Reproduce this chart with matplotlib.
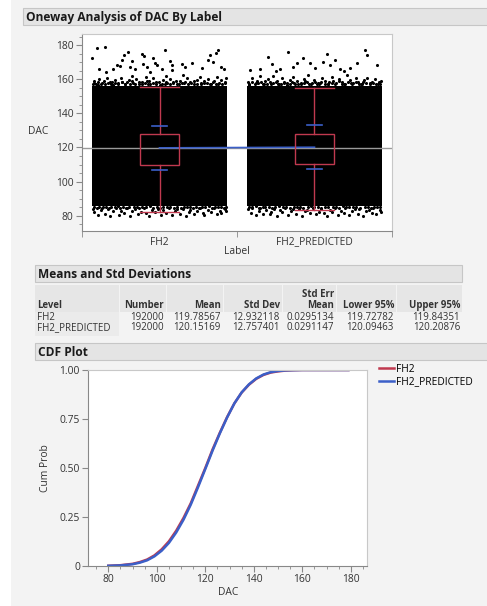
import numpy as np
import matplotlib.pyplot as plt
from matplotlib.patches import Rectangle

plt.rcParams['font.family'] = ['Open Sans', 'DejaVu Sans']
plt.rcParams['font.size'] = 7.4

# group summary (Means and Std Deviations)
labels = ['FH2', 'FH2_PREDICTED']
counts = [192000, 192000]
means = [119.78567, 120.15169]
sds = [12.932118, 12.757401]
sems = [0.0295134, 0.0291147]
lower95 = [119.72782, 120.09463]
upper95 = [119.84351, 120.20876]
grand_mean = 119.96868

# outlier box plot stats
q1 = [109.6, 110.2]
q3 = [127.8, 128.1]
whisk_lo = [82.4, 83.4]
whisk_hi = [155.7, 155.1]

# solid core of the jittered points
core_lo = [85.6, 85.9]
core_hi = [156.2, 155.9]

# sparse points above/below the core: FH2
fh2_pts_x = [0.095, 0.148, 0.067, 0.299, 0.273, 0.385, 0.402, 0.535, 0.460, 0.256,
             0.320, 0.224, 0.245, 0.198, 0.342, 0.396, 0.417, 0.471, 0.482, 0.568,
             0.583, 0.643, 0.664, 0.707, 0.826, 0.862, 0.880, 0.815, 0.847, 0.897,
             0.916, 0.772, 0.578, 0.514, 0.110, 0.153, 0.310, 0.439,
             0.07, 0.08, 0.10, 0.11, 0.13, 0.15, 0.16, 0.18, 0.20, 0.21, 0.23, 0.25,
             0.26, 0.28, 0.30, 0.32, 0.33, 0.35, 0.37, 0.39, 0.41, 0.42, 0.44, 0.46,
             0.48, 0.50, 0.52, 0.54, 0.55, 0.57, 0.59, 0.61, 0.63, 0.65, 0.66, 0.68,
             0.70, 0.72, 0.74, 0.76, 0.77, 0.79, 0.81, 0.83, 0.85, 0.87, 0.88, 0.90,
             0.92, 0.93,
             0.075, 0.09, 0.105, 0.125, 0.14, 0.165, 0.185, 0.195, 0.215, 0.235, 0.255, 0.275,
             0.29, 0.31, 0.325, 0.345, 0.365, 0.385, 0.405, 0.425, 0.435, 0.455, 0.475, 0.495,
             0.515, 0.535, 0.545, 0.565, 0.585, 0.605, 0.625, 0.645, 0.665, 0.685, 0.705, 0.725,
             0.745, 0.765, 0.785, 0.805, 0.825, 0.845, 0.865, 0.885, 0.905, 0.925,
             0.07, 0.08, 0.10, 0.12, 0.13, 0.15, 0.17, 0.18, 0.20, 0.22, 0.24, 0.25,
             0.27, 0.29, 0.31, 0.32, 0.34, 0.36, 0.38, 0.40, 0.41, 0.43, 0.45, 0.47,
             0.49, 0.51, 0.52, 0.54, 0.56, 0.58, 0.60, 0.61, 0.63, 0.65, 0.67, 0.69,
             0.70, 0.72, 0.74, 0.76, 0.78, 0.79, 0.81, 0.83, 0.85, 0.87, 0.89, 0.90,
             0.92, 0.93,
             0.075, 0.095, 0.11, 0.135, 0.155, 0.175, 0.19, 0.21, 0.23, 0.245, 0.265, 0.285,
             0.30, 0.335, 0.355, 0.37, 0.39, 0.415, 0.44, 0.46, 0.485, 0.50, 0.525, 0.55,
             0.57, 0.595, 0.615, 0.64, 0.655, 0.675, 0.695, 0.715, 0.735, 0.755, 0.775, 0.795,
             0.82, 0.84, 0.86, 0.875, 0.895, 0.915, 0.93]
fh2_pts_y = [178.3, 178.8, 172.4, 176.3, 174.3, 174.9, 173.7, 177.2, 172.4, 171.4,
             171.0, 168.4, 167.8, 165.9, 165.9, 169.0, 167.4, 169.8, 168.4, 171.0,
             168.4, 169.0, 167.1, 169.4, 174.3, 175.3, 177.2, 171.4, 170.4, 167.4,
             165.9, 166.5, 165.5, 165.9, 165.9, 164.5, 167.1, 164.5,
             157.5, 159.2, 156.8, 160.4, 158.1, 157.2, 161.0, 158.7, 156.9, 159.8, 157.6, 160.9,
             158.3, 157.1, 159.4, 162.2, 157.8, 160.1, 158.5, 157.0, 161.5, 159.0, 157.4, 160.6,
             158.2, 156.9, 159.7, 161.8, 157.7, 160.2, 158.4, 157.1, 159.3, 162.5, 157.9, 160.7,
             158.6, 157.3, 159.9, 161.2, 157.6, 158.9, 160.3, 157.2, 158.8, 161.4, 157.5, 159.6,
             158.0, 160.8,
             158.0, 157.3, 158.6, 157.1, 158.9, 157.6, 157.2, 158.4, 157.9, 157.0, 158.7, 157.5,
             158.2, 157.1, 158.8, 157.4, 157.0, 158.5, 157.7, 157.2, 159.1, 157.8, 157.1, 158.3,
             157.5, 157.0, 158.6, 157.3, 157.9, 158.8, 157.2, 157.6, 158.4, 157.0, 157.8, 158.9,
             157.3, 157.1, 158.1, 157.6, 157.2, 158.7, 157.4, 157.9, 157.1, 158.3,
             84.1, 82.0, 80.3, 83.2, 84.6, 81.1, 83.8, 79.8, 82.5, 84.3, 80.6, 83.0,
             81.7, 84.5, 79.6, 82.8, 83.9, 80.9, 82.2, 84.4, 81.4, 79.9, 83.4, 82.1,
             84.2, 80.5, 83.1, 81.8, 84.6, 80.2, 82.7, 83.7, 81.0, 84.0, 79.7, 82.4,
             83.6, 80.8, 82.9, 84.3, 81.3, 80.1, 83.3, 82.0, 84.5, 80.7, 83.0, 81.6,
             84.2, 82.6,
             85.0, 84.6, 85.2, 84.9, 85.3, 84.5, 85.1, 84.8, 85.4, 84.7, 85.0, 84.4,
             85.2, 84.9, 85.3, 84.6, 85.0, 84.8, 85.4, 84.5, 85.1, 84.7, 85.3, 84.9,
             85.0, 84.6, 85.2, 84.4, 85.1, 84.8, 85.3, 84.7, 85.0, 84.5, 85.2, 84.9,
             85.4, 84.6, 85.1, 84.8, 85.0, 84.7, 85.2]

# sparse points above/below the core: FH2_PREDICTED
pred_pts_x = [1.331, 1.826, 1.836, 1.578, 1.198, 1.224, 1.428, 1.385, 1.363, 1.557,
              1.600, 1.632, 1.772, 1.901, 1.665, 1.277, 1.148, 1.729, 1.503, 1.084,
              1.471, 1.250, 1.690,
              1.07, 1.08, 1.10, 1.12, 1.13, 1.15, 1.17, 1.18, 1.20, 1.22, 1.23, 1.25,
              1.27, 1.29, 1.30, 1.32, 1.34, 1.36, 1.37, 1.39, 1.41, 1.43, 1.45, 1.46,
              1.48, 1.50, 1.52, 1.53, 1.55, 1.57, 1.59, 1.61, 1.62, 1.64, 1.66, 1.68,
              1.69, 1.71, 1.73, 1.75, 1.77, 1.78, 1.80, 1.82, 1.84, 1.86, 1.87, 1.89,
              1.91, 1.93,
              1.075, 1.095, 1.115, 1.135, 1.155, 1.175, 1.195, 1.21, 1.235, 1.255, 1.265, 1.285,
              1.305, 1.325, 1.345, 1.355, 1.375, 1.395, 1.415, 1.435, 1.44, 1.465, 1.485, 1.505,
              1.515, 1.535, 1.545, 1.565, 1.585, 1.595, 1.615, 1.635, 1.655, 1.675, 1.695, 1.715,
              1.735, 1.745, 1.765, 1.785, 1.805, 1.815, 1.835, 1.855, 1.875, 1.895, 1.915, 1.925,
              1.07, 1.09, 1.10, 1.12, 1.14, 1.15, 1.17, 1.19, 1.21, 1.22, 1.24, 1.26,
              1.28, 1.29, 1.31, 1.33, 1.35, 1.36, 1.38, 1.40, 1.42, 1.44, 1.45, 1.47,
              1.49, 1.51, 1.53, 1.54, 1.56, 1.58, 1.60, 1.61, 1.63, 1.65, 1.67, 1.69,
              1.70, 1.72, 1.74, 1.76, 1.78, 1.79, 1.81, 1.83, 1.85, 1.87, 1.88, 1.90,
              1.92, 1.93,
              1.08, 1.10, 1.125, 1.145, 1.165, 1.18, 1.205, 1.225, 1.245, 1.27, 1.295, 1.315,
              1.34, 1.365, 1.385, 1.405, 1.425, 1.455, 1.475, 1.50, 1.52, 1.545, 1.57, 1.59,
              1.62, 1.64, 1.66, 1.685, 1.705, 1.725, 1.75, 1.77, 1.795, 1.825, 1.845, 1.865,
              1.885, 1.905, 1.925]
pred_pts_y = [176.3, 177.2, 174.3, 174.9, 173.0, 169.0, 172.4, 169.4, 167.4, 170.4,
              168.4, 171.4, 169.4, 168.4, 165.9, 165.9, 165.9, 166.5, 166.5, 165.5,
              169.4, 164.6, 164.8,
              158.2, 156.9, 160.5, 157.6, 159.1, 161.7, 157.3, 158.8, 160.1, 157.0, 162.0, 158.5,
              157.4, 160.9, 158.0, 156.8, 159.5, 161.3, 157.7, 159.0, 157.2, 160.4, 158.6, 162.3,
              157.5, 159.8, 158.1, 157.0, 160.7, 158.9, 157.4, 161.6, 159.2, 157.8, 160.0, 158.3,
              157.1, 162.4, 159.4, 157.6, 160.6, 158.4, 157.2, 159.7, 161.0, 157.9, 158.7, 160.2,
              157.3, 159.3,
              157.2, 158.5, 157.0, 157.9, 158.7, 157.4, 157.1, 158.2, 157.6, 158.9, 157.3, 157.0,
              158.4, 157.7, 157.1, 158.6, 157.5, 157.0, 158.1, 157.8, 158.8, 157.2, 157.6, 158.3,
              157.0, 157.9, 158.6, 157.3, 157.1, 158.4, 157.7, 157.0, 158.9, 157.5, 157.2, 158.2,
              157.8, 157.1, 158.5, 157.4, 157.0, 158.7, 157.6, 157.3, 158.0, 157.1, 158.4, 157.5,
              83.9, 81.5, 84.4, 80.2, 82.9, 84.6, 81.2, 83.5, 80.7, 82.3, 84.1, 79.8,
              83.2, 81.9, 84.5, 80.4, 82.6, 83.8, 81.0, 84.2, 80.0, 82.8, 83.6, 81.4,
              84.5, 80.9, 82.4, 84.0, 81.7, 79.7, 83.3, 82.0, 84.3, 80.6, 83.0, 81.5,
              84.4, 80.3, 82.7, 83.9, 81.1, 84.1, 79.9, 82.5, 83.4, 81.8, 84.6, 80.8,
              83.1, 82.2,
              85.2, 84.8, 85.4, 84.6, 85.1, 84.9, 85.3, 84.7, 85.0, 85.4, 84.8, 85.1,
              84.6, 85.3, 84.9, 85.2, 84.7, 85.0, 85.4, 84.8, 85.1, 84.6, 85.3, 84.9,
              85.0, 85.2, 84.7, 85.4, 84.8, 85.1, 84.9, 85.3, 84.6, 85.0, 85.2, 84.7,
              85.1, 84.8, 85.3]

cdf_dac = [80, 85, 90, 93, 96, 99, 102, 105, 108, 111, 114, 117, 120, 123, 126,
           129, 132, 135, 138, 141, 144, 147, 150, 153, 156, 160, 170, 179]
cdf_fh2 = [0.001, 0.004, 0.011, 0.020, 0.033, 0.054, 0.085, 0.126, 0.180, 0.245,
           0.320, 0.410, 0.500, 0.595, 0.680, 0.760, 0.830, 0.885, 0.925, 0.955,
           0.975, 0.987, 0.993, 0.997, 0.999, 1.0, 1.0, 1.0]
cdf_pred = [0.001, 0.003, 0.009, 0.017, 0.029, 0.049, 0.078, 0.118, 0.171, 0.236,
            0.313, 0.402, 0.495, 0.589, 0.677, 0.758, 0.830, 0.886, 0.927, 0.957,
            0.977, 0.989, 0.995, 0.998, 0.999, 1.0, 1.0, 1.0]

RED = '#c0394f'
BLUE = '#3b5fc8'
TXT = '#333333'
W, H = 487, 606

fig = plt.figure(figsize=(W / 100, H / 100), dpi=100, facecolor='#f3f3f3')

# page-style background, headers and table, drawn in pixel units
bg = fig.add_axes([0, 0, 1, 1])
bg.set_xlim(0, W)
bg.set_ylim(H, 0)
bg.axis('off')
bg.add_patch(Rectangle((0, 0), 11, H, fc='white', ec='none'))


def header(x0, x1, y0, y1, text):
    bg.add_patch(Rectangle((x0, y0), x1 - x0, y1 - y0, fc='#e4e4e4', ec='#c6c6c6', lw=0.8))
    bg.text(x0 + 3, (y0 + y1) / 2 + 0.5, text, fontsize=8.6, fontweight='bold',
            va='center', ha='left', color='#1a1a1a')


header(23, 490, 8, 25, 'Oneway Analysis of DAC By Label')
header(35, 462, 265, 282, 'Means and Std Deviations')
header(35, 490, 343, 360, 'CDF Plot')

bg.text(38, 131, 'DAC', ha='center', va='center', color=TXT)
bg.text(237, 252, 'Label', ha='center', va='center', color=TXT)

# table
cols = [(35, 119), (120, 166), (167, 223), (224, 282), (283, 336), (337, 396), (397, 462)]
for x0, x1 in cols:
    bg.add_patch(Rectangle((x0, 285), x1 - x0, 27, fc='#e6e6e6', ec='none'))
bg.add_patch(Rectangle((35, 312), 84, 24, fc='#ebebeb', ec='none'))

heads = ['Level', 'Number', 'Mean', 'Std Dev', 'Mean', 'Lower 95%', 'Upper 95%']
for i, (x0, x1) in enumerate(cols):
    if i == 0:
        bg.text(x0 + 2, 305.7, heads[i], fontweight='bold', va='center', ha='left', color=TXT, fontsize=6.9)
    else:
        bg.text(x1 - 2, 305.7, heads[i], fontweight='bold', va='center', ha='right', color=TXT, fontsize=6.9)
bg.text(cols[4][1] - 2, 294.3, 'Std Err', fontweight='bold', va='center', ha='right', color=TXT, fontsize=6.9)

for r in range(2):
    y = 317.7 + 10 * r
    row = ['%d' % counts[r], '%.5f' % means[r], '%.6f' % sds[r], '%.7f' % sems[r],
           '%.5f' % lower95[r], '%.5f' % upper95[r]]
    bg.text(cols[0][0] + 2, y, labels[r], va='center', ha='left', color=TXT, fontsize=7.0)
    for i, s in enumerate(row):
        bg.text(cols[i + 1][1] - 2, y, s, va='center', ha='right', color=TXT, fontsize=7.0)

# ---- oneway plot ----
ax = fig.add_axes([82 / W, 1 - 231 / H, 310 / W, 197 / H])
ax.set_facecolor('white')
centers = [0.5, 1.5]
half = 0.437
for i, c in enumerate(centers):
    ax.fill_between([c - half, c + half], [core_lo[i]] * 2, [core_hi[i]] * 2,
                    color='black', lw=0, zorder=1)
ax.scatter(fh2_pts_x, fh2_pts_y, s=5, c='black', linewidths=0, zorder=1)
ax.scatter(pred_pts_x, pred_pts_y, s=5, c='black', linewidths=0, zorder=1)

ax.axhline(grand_mean, color='#9a9a9a', lw=1, zorder=2)
ax.plot(centers, means, color=BLUE, lw=1.2, zorder=3)

bw = 0.125
for i, c in enumerate(centers):
    ax.add_patch(Rectangle((c - bw, q1[i]), 2 * bw, q3[i] - q1[i], fc='none', ec=RED, lw=1, zorder=4))
    ax.plot([c, c], [whisk_lo[i], q1[i]], color=RED, lw=1, zorder=4)
    ax.plot([c, c], [q3[i], whisk_hi[i]], color=RED, lw=1, zorder=4)
    ax.plot([c - bw, c + bw], [whisk_lo[i]] * 2, color=RED, lw=1, zorder=4)
    ax.plot([c - bw, c + bw], [whisk_hi[i]] * 2, color=RED, lw=1, zorder=4)
    for v in (means[i] - sds[i], means[i] + sds[i]):
        ax.plot([c - 0.05, c + 0.05], [v, v], color=BLUE, lw=1.2, zorder=5)

ax.set_xlim(0, 2)
ax.set_ylim(71, 186.6)
ax.set_yticks([80, 100, 120, 140, 160, 180])
ax.set_yticks(np.arange(75, 186, 5), minor=True)
ax.set_xticks(centers, labels)
ax.set_xticks([0, 1, 2], minor=True)
ax.tick_params(axis='x', which='major', length=0, pad=4, labelcolor=TXT)
ax.tick_params(axis='x', which='minor', length=4, color='#888888')
ax.tick_params(axis='y', which='major', length=4, color='#888888', labelcolor=TXT, pad=2)
ax.tick_params(axis='y', which='minor', length=2, color='#888888')
for s in ('top', 'right'):
    ax.spines[s].set_color('#c8c8c8')
for s in ('left', 'bottom'):
    ax.spines[s].set_color('#888888')

# ---- CDF plot ----
ax2 = fig.add_axes([88.3 / W, 1 - 566 / H, 279 / W, 196 / H])
ax2.set_facecolor('white')
ax2.plot(cdf_dac, cdf_fh2, color=RED, lw=1.8, label='FH2')
ax2.plot(cdf_dac, cdf_pred, color=BLUE, lw=1.8, label='FH2_PREDICTED')
ax2.set_xlim(71.75, 186.8)
ax2.set_ylim(0, 1)
ax2.set_xticks([80, 100, 120, 140, 160, 180])
ax2.set_xticks(np.arange(75, 186, 5), minor=True)
ax2.set_yticks([0, 0.25, 0.5, 0.75, 1.0], ['0', '0.25', '0.50', '0.75', '1.00'])
ax2.tick_params(which='major', length=4, color='#888888', labelcolor=TXT, pad=2)
ax2.tick_params(which='minor', length=2, color='#888888')
ax2.set_xlabel('DAC', color=TXT, labelpad=1)
ax2.set_ylabel('Cum Prob', color=TXT, labelpad=6)
for s in ('top', 'right'):
    ax2.spines[s].set_color('#c8c8c8')
for s in ('left', 'bottom'):
    ax2.spines[s].set_color('#888888')
ax2.legend(loc='upper left', bbox_to_anchor=(379 / W, 1 - 364 / H), bbox_transform=fig.transFigure,
           frameon=False, handlelength=1.45, handletextpad=0.2, labelspacing=0.15,
           borderaxespad=0, borderpad=0)

fig.savefig('out.png', dpi=100, facecolor=fig.get_facecolor())
